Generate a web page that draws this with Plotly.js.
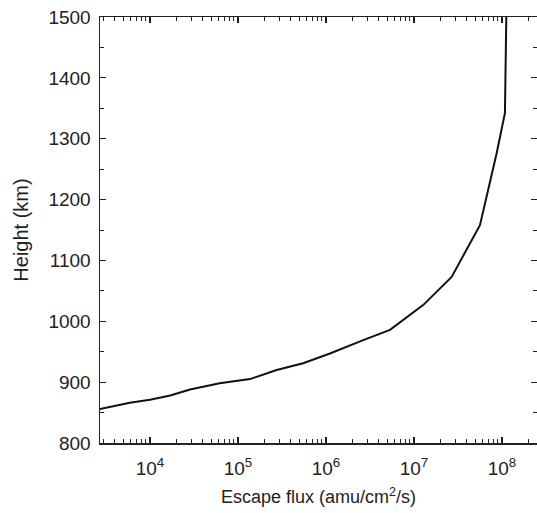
<!DOCTYPE html>
<html>
<head>
<meta charset="utf-8">
<script src="https://cdn.plot.ly/plotly-3.0.1.min.js"></script>
<style>
  html, body { margin: 0; padding: 0; background: #fff; }
  #chart { width: 537px; height: 513px; }
</style>
</head>
<body>
<div id="chart"></div>
<script>
// Escape flux profile versus height
const escapeFlux = [2700, 5900, 10000, 17000, 28500, 62000, 137000, 275000, 550000,
  1110000, 2650000, 5340000, 12800000, 26800000, 56200000, 87000000,
  108000000, 110000000, 112000000];
const heightKm = [856, 866, 871, 878, 888, 898, 905, 920, 931,
  947, 969, 986, 1027, 1073, 1158, 1276,
  1342, 1420, 1500];

const xTickVals = [1e4, 1e5, 1e6, 1e7, 1e8];
const xTickText = ['10<sup>4</sup>', '10<sup>5</sup>', '10<sup>6</sup>', '10<sup>7</sup>', '10<sup>8</sup>'];
const yTickVals = [800, 900, 1000, 1100, 1200, 1300, 1400, 1500];

const ink = '#222';
const family = 'Liberation Sans, Arial, sans-serif';
const tickFont = { family: family, size: 19, color: ink };
const xTitleFont = { family: family, size: 18, color: ink };
const yTitleFont = { family: family, size: 20, color: ink };

const trace = {
  x: escapeFlux,
  y: heightKm,
  type: 'scatter',
  mode: 'lines',
  line: { color: '#111', width: 2 },
  hoverinfo: 'skip'
};

const layout = {
  width: 537,
  height: 513,
  margin: { l: 100, r: 0, t: 17, b: 70 },
  paper_bgcolor: '#fff',
  plot_bgcolor: '#fff',
  showlegend: false,
  font: tickFont,
  xaxis: {
    type: 'log',
    range: [3.432, 8.398],
    tickvals: xTickVals,
    ticktext: xTickText,
    ticks: 'inside',
    ticklen: 6,
    tickwidth: 1.2,
    tickcolor: ink,
    minor: { ticks: 'inside', ticklen: 4, tickwidth: 1, tickcolor: ink, dtick: 'D1' },
    showline: true,
    linecolor: ink,
    linewidth: 1.5,
    mirror: 'ticks',
    showgrid: false,
    zeroline: false,
    tickfont: tickFont,
    ticklabelstandoff: 8,
    title: { text: 'Escape flux (amu/cm<sup>2</sup>/s)', font: xTitleFont, standoff: 12 }
  },
  yaxis: {
    range: [800, 1500],
    tickvals: yTickVals,
    ticks: 'inside',
    ticklen: 6,
    tickwidth: 1.2,
    tickcolor: ink,
    minor: { ticks: 'inside', ticklen: 4, tickwidth: 1, tickcolor: ink, dtick: 50 },
    showline: true,
    linecolor: ink,
    linewidth: 1.5,
    mirror: 'ticks',
    showgrid: false,
    zeroline: false,
    tickfont: tickFont,
    ticklabelstandoff: 4,
    title: { text: 'Height (km)', font: yTitleFont, standoff: 14 }
  }
};

Plotly.newPlot('chart', [trace], layout, { staticPlot: true, displayModeBar: false });
</script>
</body>
</html>
